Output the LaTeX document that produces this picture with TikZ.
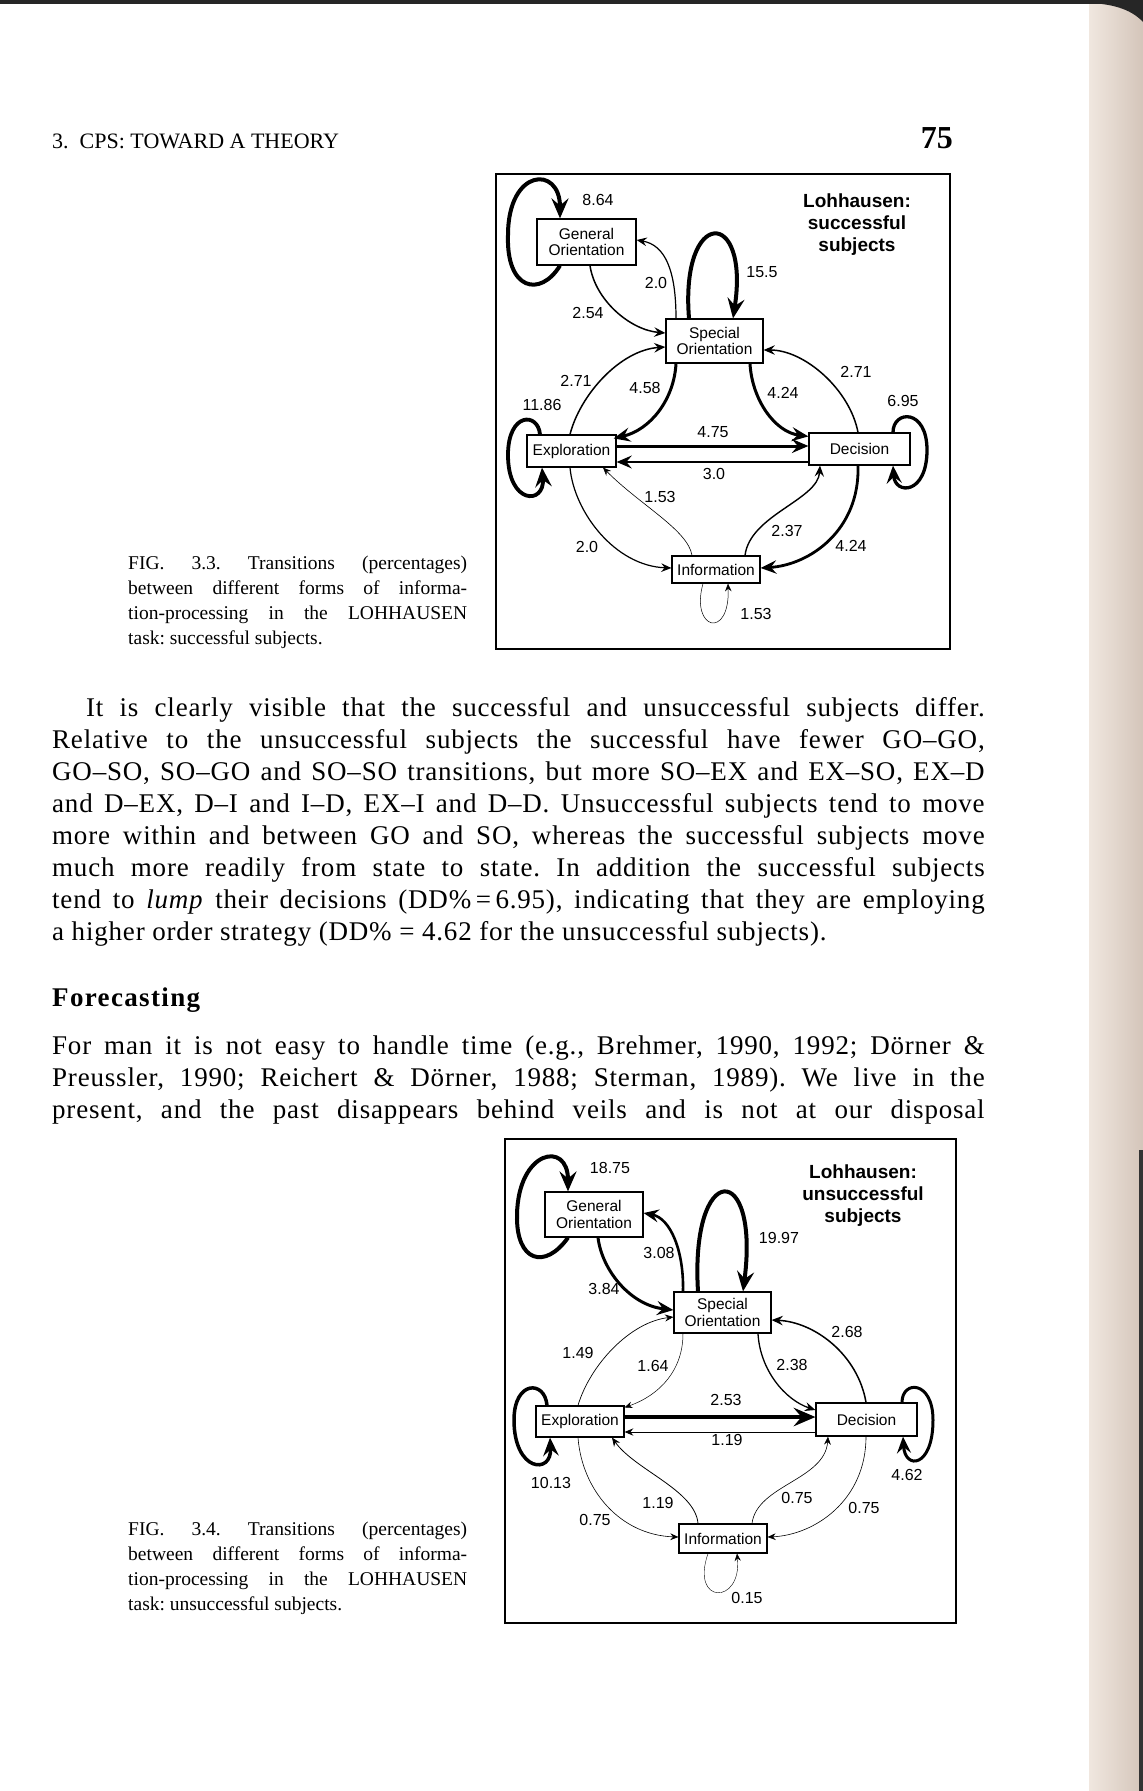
\documentclass[tikz,border=0pt]{standalone}
\usepackage{fontspec}
\newfontfamily\timesfam{Liberation Serif}
\newfontfamily\bodyfam{Liberation Serif}[LetterSpace=3]
\newfontfamily\headfam{Liberation Serif}[LetterSpace=5]
\newfontfamily\sansfam{Liberation Sans}
\usetikzlibrary{arrows.meta,calc}
\definecolor{edgeA}{RGB}{240,231,223}
\definecolor{edgeB}{RGB}{212,197,186}
\newcommand\boxfont{\sansfam\fontsize{15.5}{16.5}\selectfont}
\newcommand\labfont{\sansfam\fontsize{16}{18}\selectfont}
\newcommand\titfont{\sansfam\bfseries\fontsize{19}{22}\selectfont}
\newcommand\bodyfont{\bodyfam\fontsize{27}{32.1}\selectfont\frenchspacing}
\newcommand\capfont{\timesfam\fontsize{19.5}{25}\selectfont\frenchspacing}
\tikzset{
  box/.style={draw, line width=1.2pt, fill=white, inner sep=0pt, align=center, font=\boxfont},
  lab/.style={font=\labfont, inner sep=0pt},
  arr/.style={-{Stealth[length=6pt 3.5, width=5pt 3, inset=2pt 1.3]}},
  frame/.style={draw, line width=1.2pt, inner sep=0pt},
  para/.style={anchor=base west, inner sep=0pt, align=justify},
}
\begin{document}
\begin{tikzpicture}[x=1pt,y=-1pt]
\useasboundingbox (0,0) rectangle (1143,1791);
\fill[white] (0,0) rectangle (1143,1791);
% page edge
\shade[left color=edgeA, right color=edgeB] (1089,0) rectangle (1143,1791);
\fill[black!85] (0,0) rectangle (1143,4);
\fill[black!85] (1090,0) -- (1143,0) -- (1143,22) .. controls (1130,8) and (1110,4) .. (1090,3) -- cycle;
\fill[black!80] (1139,1150) rectangle (1143,1791);

% running head
\node[anchor=base west, inner sep=0pt, font=\timesfam\fontsize{22}{26}\selectfont] (hdr) at (52,148) {3.\ \ CPS: TOWARD A THEORY};
\node[anchor=base east, inner sep=0pt, font=\timesfam\fontsize{32}{36}\selectfont\bfseries] (pg) at (953,148) {75};

% ---------- Figure 3.3 ----------
\node[frame, minimum width=454pt, minimum height=475pt] (fr1) at (723,411.5) {};
\node[font=\titfont, align=center, inner sep=0pt] (t1) at (857,224.5) {Lohhausen:\\successful\\subjects};

\node[box, minimum width=99pt, minimum height=46pt] (go1) at (586.5,242) {General\\Orientation};
\node[box, minimum width=97pt, minimum height=44pt] (so1) at (714.5,341) {Special\\Orientation};
\node[box, minimum width=89pt, minimum height=32pt] (ex1) at (571.5,451) {Exploration};
\node[box, minimum width=101pt, minimum height=32pt] (de1) at (859.5,449) {Decision};
\node[box, minimum width=88pt, minimum height=27pt] (in1) at (716,569.5) {Information};

\draw[arr, line width=4pt] ($(go1.south)+(-26.5,0)$) .. controls (540,298) and (506,290) .. (508,235) .. controls (508,168) and (560,165) .. ($(go1.north)+(-26.5,0)$);
\draw[arr, line width=1.5pt] ($(go1.south)+(3.5,0)$) .. controls (595,300) and (630,330) .. ($(so1.west)+(0,-8)$);
\draw[arr, line width=1.2pt] ($(so1.north)+(-38.5,0)$) .. controls (676,270) and (665,245) .. ($(go1.east)+(0,-2)$);
\draw[arr, line width=4pt] ($(so1.north)+(-25.5,0)$) .. controls (680,207) and (750,207) .. ($(so1.north)+(18.5,0)$);
\draw[arr, line width=1.5pt] ($(ex1.north)+(-1.5,0)$) .. controls (580,395) and (620,350) .. ($(so1.west)+(0,6)$);
\draw[arr, line width=3pt] ($(so1.south)+(-38.5,0)$) .. controls (674,400) and (650,430) .. ($(ex1.north east)+(-3,4)$);
\draw[arr, line width=3pt] ($(so1.south)+(35.5,0)$) .. controls (752,400) and (775,432) .. ($(de1.north west)+(0,4)$);
\draw[arr, line width=1.5pt] ($(de1.north)+(-1.5,0)$) .. controls (850,390) and (805,350) .. ($(so1.east)+(0,9)$);
\draw[arr, line width=3.8pt] ($(ex1.north)+(-31.5,0)$) .. controls (538,412) and (508,412) .. (508,455) .. controls (508,505) and (545,505) .. ($(ex1.south)+(-29.5,0)$);
\draw[arr, line width=3.3pt] ($(de1.north)+(33.5,0)$) .. controls (893,410) and (927,408) .. (927,450) .. controls (927,495) and (895,495) .. ($(de1.south)+(33.5,0)$);
\draw[arr, line width=3pt] ($(ex1.east)+(0,-5)$) -- ($(de1.west)+(0,-3)$);
\draw[arr, line width=2.6pt] ($(de1.west)+(0,13)$) -- ($(ex1.east)+(0,11)$);
\draw[arr, line width=0.6pt] ($(in1.north)+(-24,0)$) .. controls (688,530) and (640,505) .. ($(ex1.south)+(31.5,0)$);
\draw[arr, line width=1.2pt] ($(ex1.south)+(-1.5,0)$) .. controls (574,512) and (615,566) .. ($(in1.west)+(0,-1.5)$);
\draw[arr, line width=1.4pt] ($(in1.north)+(29,0)$) .. controls (750,515) and (818,500) .. ($(de1.south)+(-39.5,0)$);
\draw[arr, line width=2.8pt] ($(de1.south)+(-1.5,0)$) .. controls (860,530) and (810,565) .. ($(in1.east)+(0,-1.5)$);
\draw[arr, line width=0.5pt] ($(in1.south)+(-13,0)$) .. controls (690,630) and (730,640) .. ($(in1.south)+(12,0)$);

\node[lab] (a1) at (598,200) {8.64};
\node[lab] (a2) at (762,272) {15.5};
\node[lab] (a3) at (656,283) {2.0};
\node[lab] (a4) at (588,313) {2.54};
\node[lab] (a5) at (576,381) {2.71};
\node[lab] (a6) at (645,388) {4.58};
\node[lab] (a7) at (542,405) {11.86};
\node[lab] (a8) at (783,393) {4.24};
\node[lab] (a9) at (856,372) {2.71};
\node[lab] (a10) at (903,401) {6.95};
\node[lab] (a11) at (713,432) {4.75};
\node[lab] (a12) at (714,474) {3.0};
\node[lab] (a13) at (660,497) {1.53};
\node[lab] (a14) at (787,531) {2.37};
\node[lab] (a15) at (587,547) {2.0};
\node[lab] (a16) at (851,546) {4.24};
\node[lab] (a17) at (756,614) {1.53};

\node[para, text width=339pt, font=\capfont] (cap1) at (128,569) {FIG. 3.3. Transitions (percentages)\linebreak between different forms of informa-\linebreak tion-processing in the LOHHAUSEN\linebreak task: successful subjects.};

% ---------- body text ----------
\node[para, text width=932.5pt, font=\bodyfont] (p1) at (52,716) {\tolerance=10000\hyphenpenalty=10000\exhyphenpenalty=10000\hspace*{34pt}It is clearly visible that the successful and unsuccessful subjects differ.\linebreak
Relative to the unsuccessful subjects the successful have fewer GO–GO,\linebreak
GO–SO, SO–GO and SO–SO transitions, but more SO–EX and EX–SO, EX–D\linebreak
and D–EX, D–I and I–D, EX–I and D–D. Unsuccessful subjects tend to move\linebreak
more within and between GO and SO, whereas the successful subjects move\linebreak
much more readily from state to state. In addition the successful subjects\linebreak
tend to \textit{lump} their decisions (DD\%\,=\,6.95), indicating that they are employing\linebreak
a higher order strategy (DD\% = 4.62 for the unsuccessful subjects).};

\node[anchor=base west, inner sep=0pt, font=\headfam\bfseries\fontsize{27}{30}\selectfont] (fc) at (52,1006) {Forecasting};

\node[para, text width=932.5pt, font=\bodyfont] (p2) at (52,1054) {\tolerance=10000\hyphenpenalty=10000\exhyphenpenalty=10000\parfillskip=0pt For man it is not easy to handle time (e.g., Brehmer, 1990, 1992; Dörner \&\linebreak
Preussler, 1990; Reichert \& Dörner, 1988; Sterman, 1989). We live in the\linebreak
present, and the past disappears behind veils and is not at our disposal\par};

% ---------- Figure 3.4 ----------
\node[frame, minimum width=451pt, minimum height=484pt] (fr2) at (730.5,1381) {};
\node[font=\titfont, align=center, inner sep=0pt] (t2) at (863,1195.5) {Lohhausen:\\unsuccessful\\subjects};

\node[box, minimum width=98pt, minimum height=45pt] (go2) at (594,1214.5) {General\\Orientation};
\node[box, minimum width=97pt, minimum height=41pt] (so2) at (722.5,1312.5) {Special\\Orientation};
\node[box, minimum width=88pt, minimum height=31pt] (ex2) at (580,1421.5) {Exploration};
\node[box, minimum width=101pt, minimum height=33pt] (de2) at (866.5,1419.5) {Decision};
\node[box, minimum width=88pt, minimum height=29pt] (in2) at (723,1538.5) {Information};

\draw[arr, line width=4pt] ($(go2.south)+(-26,0)$) .. controls (545,1270) and (516,1262) .. (517,1215) .. controls (518,1150) and (568,1140) .. ($(go2.north)+(-26,0)$);
\draw[arr, line width=3pt] ($(go2.south)+(4,0)$) .. controls (602,1270) and (630,1305) .. ($(so2.west)+(0,-2.5)$);
\draw[arr, line width=2.6pt] ($(so2.north)+(-39.5,0)$) .. controls (684,1250) and (670,1218) .. ($(go2.east)+(0,-1.5)$);
\draw[arr, line width=4pt] ($(so2.north)+(-24.5,0)$) .. controls (690,1160) and (760,1160) .. ($(so2.north)+(20.5,0)$);
\draw[arr, line width=0.7pt] ($(ex2.north)+(-2,0)$) .. controls (590,1365) and (630,1322) .. ($(so2.west)+(0,4.5)$);
\draw[arr, line width=0.5pt] ($(so2.south)+(-39.5,0)$) .. controls (683,1370) and (660,1395) .. ($(ex2.north east)+(0,2)$);
\draw[arr, line width=1.3pt] ($(so2.south)+(35.5,0)$) .. controls (760,1370) and (785,1400) .. ($(de2.west)+(0,-9.5)$);
\draw[arr, line width=1.5pt] ($(de2.north)+(-0.5,0)$) .. controls (858,1355) and (815,1322) .. ($(so2.east)+(0,7.5)$);
\draw[arr, line width=3.5pt] ($(ex2.north)+(-33,0)$) .. controls (545,1380) and (514,1380) .. (514,1420) .. controls (514,1472) and (552,1475) .. ($(ex2.south)+(-30,0)$);
\draw[arr, line width=3pt] ($(de2.north)+(35.5,0)$) .. controls (902,1380) and (933,1380) .. (933,1420) .. controls (933,1468) and (905,1470) .. ($(de2.south)+(36.5,0)$);
\draw[arr, line width=4.5pt] ($(ex2.east)+(0,-4.5)$) -- ($(de2.west)+(0,-2.5)$);
\draw[arr, line width=0.8pt] ($(de2.west)+(0,12.5)$) -- ($(ex2.east)+(0,10.5)$);
\draw[arr, line width=0.8pt] ($(in2.north)+(-25,0)$) .. controls (695,1490) and (635,1470) .. ($(ex2.south)+(32,0)$);
\draw[arr, line width=0.6pt] ($(ex2.south)+(-2,0)$) .. controls (582,1490) and (620,1535) .. ($(in2.west)+(0,-1.5)$);
\draw[arr, line width=0.6pt] ($(in2.north)+(29,0)$) .. controls (757,1485) and (825,1480) .. ($(de2.south)+(-38.5,0)$);
\draw[arr, line width=0.6pt] ($(de2.south)+(-0.5,0)$) .. controls (866,1500) and (815,1535) .. ($(in2.east)+(0,-1.5)$);
\draw[arr, line width=0.4pt] ($(in2.south)+(-15,0)$) .. controls (690,1605) and (742,1605) .. ($(in2.south)+(14,0)$);

\node[lab] (b1) at (610,1168) {18.75};
\node[lab] (b2) at (779,1238) {19.97};
\node[lab] (b3) at (659,1253) {3.08};
\node[lab] (b4) at (604,1289) {3.84};
\node[lab] (b5) at (847,1332) {2.68};
\node[lab] (b6) at (578,1353) {1.49};
\node[lab] (b7) at (653,1366) {1.64};
\node[lab] (b8) at (792,1365) {2.38};
\node[lab] (b9) at (726,1400) {2.53};
\node[lab] (b10) at (727,1440) {1.19};
\node[lab] (b11) at (551,1483) {10.13};
\node[lab] (b12) at (907,1475) {4.62};
\node[lab] (b13) at (658,1503) {1.19};
\node[lab] (b14) at (797,1498) {0.75};
\node[lab] (b15) at (864,1508) {0.75};
\node[lab] (b16) at (595,1520) {0.75};
\node[lab] (b17) at (747,1598) {0.15};

\node[para, text width=339pt, font=\capfont] (cap2) at (128,1535) {FIG. 3.4. Transitions (percentages)\linebreak between different forms of informa-\linebreak tion-processing in the LOHHAUSEN\linebreak task: unsuccessful subjects.};
\end{tikzpicture}
\end{document}
